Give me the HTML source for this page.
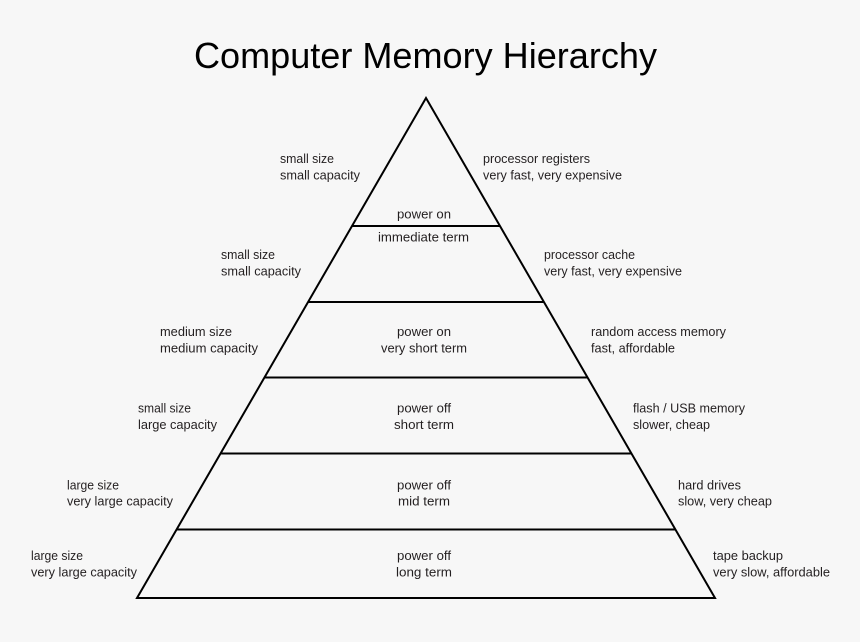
<!DOCTYPE html>
<html>
<head>
<meta charset="utf-8">
<style>
html,body{margin:0;padding:0;background:#f7f7f7;}
svg{display:block;}
text{font-family:"Liberation Sans",sans-serif;fill:#231f20;}
.t{font-size:13px;}
</style>
</head>
<body>
<svg width="860" height="642" viewBox="0 0 860 642" xmlns="http://www.w3.org/2000/svg">
<rect width="860" height="642" fill="#f7f7f7"/>
<text x="194" y="68" font-size="36" textLength="463" lengthAdjust="spacingAndGlyphs" style="fill:#000">Computer Memory Hierarchy</text>

<g stroke="#000" stroke-width="2" fill="none" stroke-linejoin="miter" stroke-miterlimit="20">
<polygon points="426,98 715,598 137,598"/>
<line x1="352" y1="226" x2="500" y2="226"/>
<line x1="308" y1="302" x2="544" y2="302"/>
<line x1="264" y1="377.5" x2="588" y2="377.5"/>
<line x1="220" y1="453.5" x2="632" y2="453.5"/>
<line x1="177" y1="529.5" x2="675" y2="529.5"/>
</g>

<g class="t">
<!-- row 1 -->
<text class="t" x="280" y="163" textLength="54" lengthAdjust="spacingAndGlyphs">small size</text>
<text class="t" x="280" y="179.5" textLength="80" lengthAdjust="spacingAndGlyphs">small capacity</text>
<text class="t" x="483" y="163" textLength="107" lengthAdjust="spacingAndGlyphs">processor registers</text>
<text class="t" x="483" y="179.5" textLength="139" lengthAdjust="spacingAndGlyphs">very fast, very expensive</text>
<text class="t" x="397" y="218.5" textLength="54" lengthAdjust="spacingAndGlyphs">power on</text>
<text class="t" x="378" y="241.5" textLength="91" lengthAdjust="spacingAndGlyphs">immediate term</text>

<!-- row 2 -->
<text class="t" x="221" y="259" textLength="54" lengthAdjust="spacingAndGlyphs">small size</text>
<text class="t" x="221" y="275.5" textLength="80" lengthAdjust="spacingAndGlyphs">small capacity</text>
<text class="t" x="544" y="259" textLength="91" lengthAdjust="spacingAndGlyphs">processor cache</text>
<text class="t" x="544" y="275.5" textLength="138" lengthAdjust="spacingAndGlyphs">very fast, very expensive</text>

<!-- row 3 -->
<text class="t" x="160" y="336" textLength="72" lengthAdjust="spacingAndGlyphs">medium size</text>
<text class="t" x="160" y="352.5" textLength="98" lengthAdjust="spacingAndGlyphs">medium capacity</text>
<text class="t" x="397" y="336" textLength="54" lengthAdjust="spacingAndGlyphs">power on</text>
<text class="t" x="381" y="352.5" textLength="86" lengthAdjust="spacingAndGlyphs">very short term</text>
<text class="t" x="591" y="336" textLength="135" lengthAdjust="spacingAndGlyphs">random access memory</text>
<text class="t" x="591" y="352.5" textLength="84" lengthAdjust="spacingAndGlyphs">fast, affordable</text>

<!-- row 4 -->
<text class="t" x="138" y="412.7" textLength="53" lengthAdjust="spacingAndGlyphs">small size</text>
<text class="t" x="138" y="429" textLength="79" lengthAdjust="spacingAndGlyphs">large capacity</text>
<text class="t" x="397" y="412.7" textLength="54" lengthAdjust="spacingAndGlyphs">power off</text>
<text class="t" x="394" y="429" textLength="60" lengthAdjust="spacingAndGlyphs">short term</text>
<text class="t" x="633" y="412.7" textLength="112" lengthAdjust="spacingAndGlyphs">flash / USB memory</text>
<text class="t" x="633" y="429" textLength="77" lengthAdjust="spacingAndGlyphs">slower, cheap</text>

<!-- row 5 -->
<text class="t" x="67" y="489.3" textLength="52" lengthAdjust="spacingAndGlyphs">large size</text>
<text class="t" x="67" y="505.5" textLength="106" lengthAdjust="spacingAndGlyphs">very large capacity</text>
<text class="t" x="397" y="489.3" textLength="54" lengthAdjust="spacingAndGlyphs">power off</text>
<text class="t" x="398" y="505.5" textLength="52" lengthAdjust="spacingAndGlyphs">mid term</text>
<text class="t" x="678" y="489.3" textLength="63" lengthAdjust="spacingAndGlyphs">hard drives</text>
<text class="t" x="678" y="505.5" textLength="94" lengthAdjust="spacingAndGlyphs">slow, very cheap</text>

<!-- row 6 -->
<text class="t" x="31" y="560" textLength="52" lengthAdjust="spacingAndGlyphs">large size</text>
<text class="t" x="31" y="576.5" textLength="106" lengthAdjust="spacingAndGlyphs">very large capacity</text>
<text class="t" x="397" y="560" textLength="54" lengthAdjust="spacingAndGlyphs">power off</text>
<text class="t" x="396" y="576.5" textLength="56" lengthAdjust="spacingAndGlyphs">long term</text>
<text class="t" x="713" y="560" textLength="70" lengthAdjust="spacingAndGlyphs">tape backup</text>
<text class="t" x="713" y="576.5" textLength="117" lengthAdjust="spacingAndGlyphs">very slow, affordable</text>
</g>
</svg>
</body>
</html>
